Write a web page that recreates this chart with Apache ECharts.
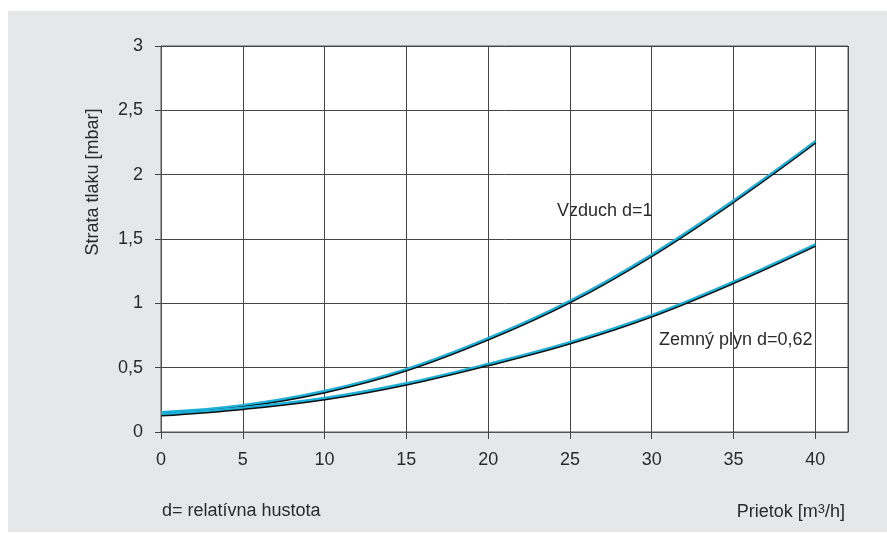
<!DOCTYPE html>
<html>
<head>
<meta charset="utf-8">
<script src="https://cdn.jsdelivr.net/npm/echarts@6/dist/echarts.min.js"></script>
<style>
  html, body { margin: 0; padding: 0; background: #fff; }
  #chart { width: 887px; height: 534px; }
</style>
</head>
<body>
<div id="chart"></div>
<script>
// prietok [m3/h]
var flow = [0, 5, 10, 15, 20, 25, 30, 35, 40];
// strata tlaku [mbar]
var vzduch = [0.155, 0.21, 0.32, 0.49, 0.73, 1.02, 1.38, 1.80, 2.26];
var zemnyPlyn = [0.14, 0.19, 0.265, 0.38, 0.53, 0.70, 0.91, 1.17, 1.46];

var font = 'Liberation Sans';
var textColor = '#2a2a2a';

function pairs(xs, ys) {
  return xs.map(function (x, i) { return [x, ys[i]]; });
}

var myChart = echarts.init(document.getElementById('chart'));

function curve(name, data) {
  return {
    name: name,
    type: 'line',
    smooth: 0.4,
    showSymbol: false,
    data: pairs(flow, data),
    lineStyle: {
      color: '#1cb2da',
      width: 2.2,
      shadowColor: '#111',
      shadowOffsetY: 1.5,
      shadowOffsetX: 0.3,
      shadowBlur: 0
    },
    z: 5
  };
}

var option = {
  backgroundColor: '#fff',
  animation: false,
  graphic: [
    {
      type: 'rect', z: -10, silent: true,
      shape: { x: 8, y: 11, width: 879, height: 521 },
      style: { fill: '#e6e7e8' }
    },
    {
      type: 'text', x: 93, y: 182, rotation: Math.PI / 2,
      style: {
        text: 'Strata tlaku [mbar]', font: '18px ' + font, fill: textColor,
        align: 'center', verticalAlign: 'middle'
      }
    },
    {
      type: 'text', left: 557, top: 202,
      style: { text: 'Vzduch d=1', font: '18px ' + font, fill: textColor }
    },
    {
      type: 'text', left: 659, top: 331,
      style: { text: 'Zemný plyn d=0,62', font: '18px ' + font, fill: textColor }
    },
    {
      type: 'text', left: 162, top: 502,
      style: { text: 'd= relatívna hustota', font: '18px ' + font, fill: textColor }
    },
    {
      type: 'text', right: 42, top: 503,
      style: {
        text: '{a|Prietok [m}{s|3}{a|/h]}',
        rich: {
          a: { font: '18px ' + font, fill: textColor },
          s: { font: '13px ' + font, fill: textColor, verticalAlign: 'top', padding: [0, 0, 6, 0] }
        }
      }
    }
  ],
  grid: {
    left: 161,
    right: 39,
    top: 46,
    bottom: 102,
    outerBoundsMode: 'none',
    containLabel: false,
    show: true,
    backgroundColor: '#fff',
    borderColor: '#555',
    borderWidth: 1
  },
  xAxis: {
    type: 'value',
    min: 0,
    max: 42,
    interval: 5,
    axisLine: { show: true, onZero: false, lineStyle: { color: '#555', width: 1 } },
    axisTick: { show: true, length: 7, lineStyle: { color: '#444' } },
    axisLabel: {
      fontFamily: font, fontSize: 18, color: textColor, margin: 19,
      showMaxLabel: false
    },
    splitLine: { show: true, lineStyle: { color: '#444', width: 1 } }
  },
  yAxis: {
    type: 'value',
    min: 0,
    max: 3,
    interval: 0.5,
    axisLine: { show: true, lineStyle: { color: '#555', width: 1 } },
    axisTick: { show: true, length: 6, lineStyle: { color: '#444' } },
    axisLabel: {
      fontFamily: font, fontSize: 18, color: textColor, margin: 18,
      formatter: function (v) { return String(v).replace('.', ','); }
    },
    splitLine: { show: true, lineStyle: { color: '#444', width: 1 } }
  },
  series: [
    curve('Vzduch d=1', vzduch),
    curve('Zemný plyn d=0,62', zemnyPlyn)
  ]
};

myChart.setOption(option);
window.addEventListener('resize', function () { myChart.resize(); });
</script>
</body>
</html>
